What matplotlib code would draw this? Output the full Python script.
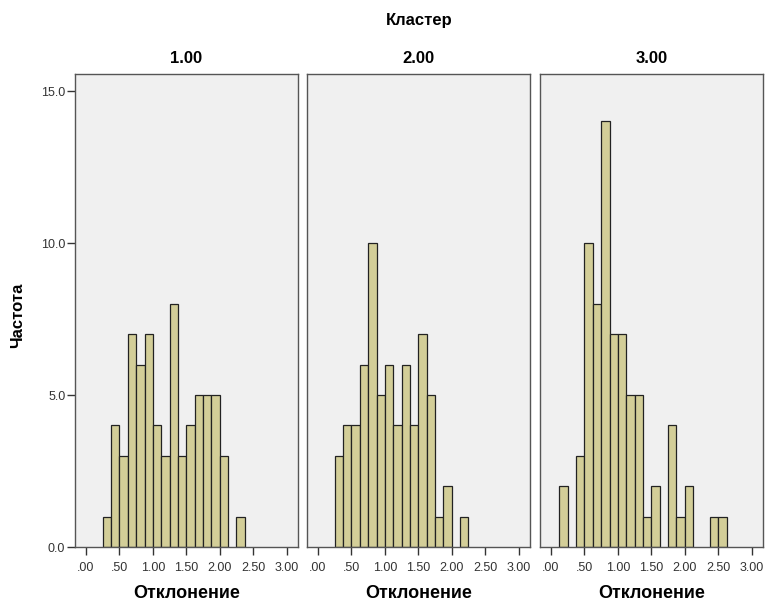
import numpy as np
import matplotlib.pyplot as plt

plt.rcParams['font.family'] = ['Liberation Sans', 'DejaVu Sans']

# histogram bins (left edges, width 0.125) and counts per cluster
bin_starts = [0.125, 0.25, 0.375, 0.5, 0.625, 0.75, 0.875, 1.0, 1.125, 1.25,
              1.375, 1.5, 1.625, 1.75, 1.875, 2.0, 2.125, 2.25, 2.375, 2.5]
counts_1 = [0, 1, 4, 3, 7, 6, 7, 4, 3, 8, 3, 4, 5, 5, 5, 3, 0, 1, 0, 0]
counts_2 = [0, 3, 4, 4, 6, 10, 5, 6, 4, 6, 4, 7, 5, 1, 2, 0, 1, 0, 0, 0]
counts_3 = [2, 0, 3, 10, 8, 14, 7, 7, 5, 5, 1, 2, 0, 4, 1, 2, 0, 0, 1, 1]
clusters = ['1.00', '2.00', '3.00']
all_counts = [counts_1, counts_2, counts_3]

x_ticks = [0, 0.5, 1.0, 1.5, 2.0, 2.5, 3.0]
x_ticklabels = ['.00', '.50', '1.00', '1.50', '2.00', '2.50', '3.00']
y_ticks = [0, 5, 10, 15]
y_ticklabels = ['0.0', '5.0', '10.0', '15.0']

W, H = 765, 603
fig = plt.figure(figsize=(W / 100, H / 100), dpi=100)

lefts = [75, 307, 540]
ax_w, ax_top, ax_bot = 223, 74, 547

bar_color = '#d3ce98'
frame_color = '#555555'

for i, (name, counts) in enumerate(zip(clusters, all_counts)):
    ax = fig.add_axes([lefts[i] / W, 1 - ax_bot / H, ax_w / W, (ax_bot - ax_top) / H])
    ax.set_facecolor('#f0f0f0')
    # skip empty bins so no flat outline is drawn on the baseline
    xs = [b for b, c in zip(bin_starts, counts) if c > 0]
    hs = [c for c in counts if c > 0]
    ax.bar(xs, hs, width=0.125, align='edge', color=bar_color,
           edgecolor='#222222', linewidth=0.9)
    ax.set_xlim(-0.165, 3.17)
    ax.set_ylim(0, 15.56)
    ax.set_xticks(x_ticks)
    ax.set_xticklabels(x_ticklabels)
    ax.tick_params(axis='x', direction='out', length=6, width=1, color='#333333',
                   labelsize=9, labelcolor='#333333', pad=5)
    if i == 0:
        ax.set_yticks(y_ticks)
        ax.set_yticklabels(y_ticklabels)
        ax.tick_params(axis='y', direction='out', length=6, width=1, color='#333333',
                       labelsize=9, labelcolor='#333333', pad=1)
    else:
        ax.set_yticks([])
    for sp in ax.spines.values():
        sp.set_color(frame_color)
        sp.set_linewidth(1)
    ax.set_title(name, fontsize=12, fontweight='bold', pad=8)
    cx = (lefts[i] + ax_w / 2) / W
    fig.text(cx, 1 - 593 / H, 'Отклонение', ha='center', va='center',
             fontsize=13, fontweight='bold')

fig.text(419 / W, 1 - 20 / H, 'Кластер', ha='center', va='center',
         fontsize=12, fontweight='bold')
fig.text(18 / W, 1 - 315 / H, 'Частота', ha='center', va='center',
         rotation=90, fontsize=12, fontweight='bold')

fig.savefig('out.png', dpi=100, facecolor='white')
